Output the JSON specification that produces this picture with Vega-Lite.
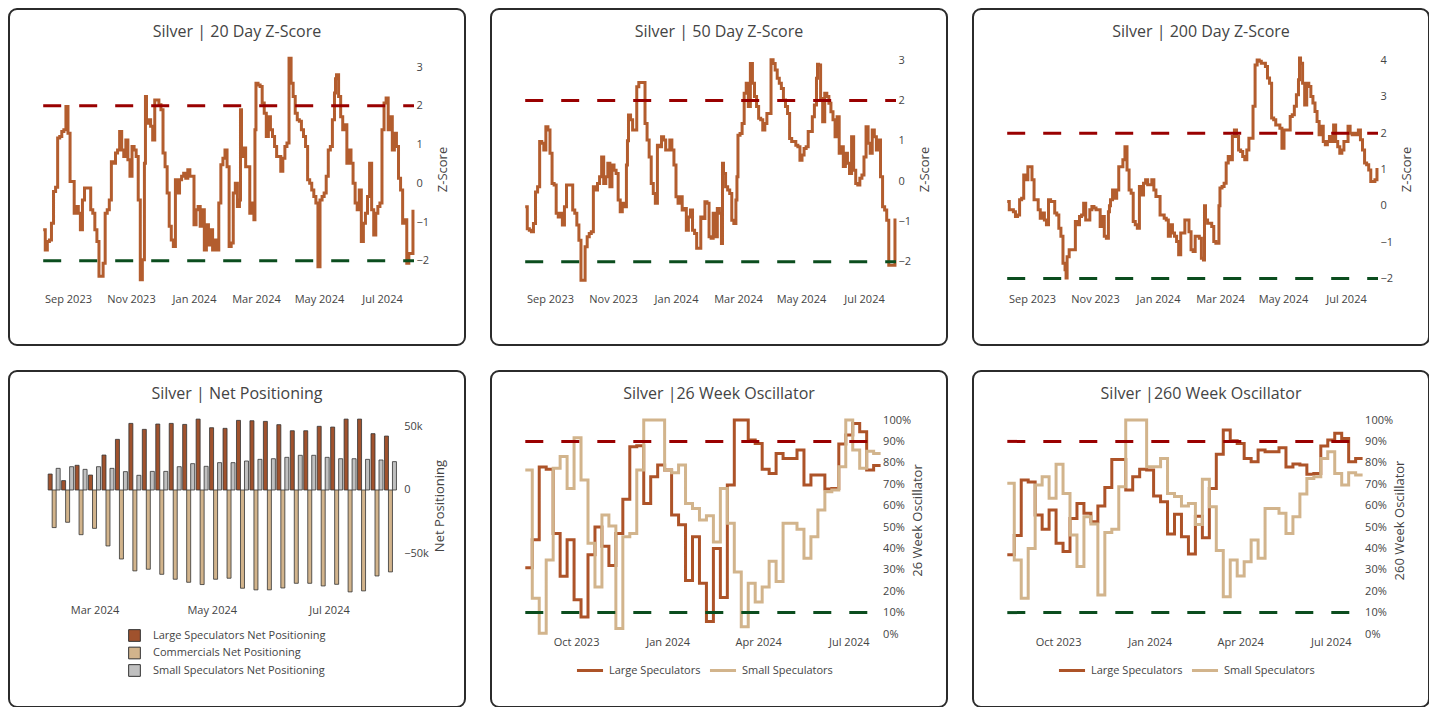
{
"$schema": "https://vega.github.io/schema/vega-lite/v6.json",
"background": "white",
"padding": {"left": 8, "top": 8, "right": 0, "bottom": 0},
"spacing": 24,
"config": {
  "view": {"stroke": "#2b2b2b", "strokeWidth": 2, "cornerRadius": 8, "fill": "white"},
  "font": "Open Sans",
  "axis": {"grid": false, "domain": false, "ticks": false, "labelFont": "Open Sans", "labelFontSize": 11, "labelColor": "#444", "titleFont": "Open Sans", "titleFontSize": 13, "titleColor": "#444", "titleFontWeight": "normal", "labelFlush": false, "labelOverlap": false},
  "title": {"font": "Open Sans", "fontSize": 16, "fontWeight": "normal", "color": "#444", "anchor": "middle", "frame": "group", "offset": -31},
  "legend": {"labelFont": "Open Sans", "labelFontSize": 11, "labelColor": "#444", "labelLimit": 300}
},
"datasets": {
"z": [
{"d":"2023-08-08","a":-1.2,"b":-0.64,"c":0.12},
{"d":"2023-08-10","a":-1.72,"b":-1.18,"c":-0.11},
{"d":"2023-08-12","a":-1.5,"b":-1.22,"c":-0.11},
{"d":"2023-08-14","a":-1.46,"b":-1.26,"c":-0.16},
{"d":"2023-08-16","a":-1.03,"b":-1.05,"c":-0.29},
{"d":"2023-08-18","a":-0.21,"b":-0.27,"c":-0.25},
{"d":"2023-08-20","a":-0.1,"b":-0.14,"c":0.17},
{"d":"2023-08-22","a":1.17,"b":0.98,"c":0.21},
{"d":"2023-08-24","a":1.21,"b":0.94,"c":0.85},
{"d":"2023-08-26","a":1.34,"b":0.77,"c":0.72},
{"d":"2023-08-28","a":1.38,"b":1.35,"c":1.08},
{"d":"2023-08-30","a":1.98,"b":1.27,"c":1.08},
{"d":"2023-09-01","a":1.29,"b":0.69,"c":0.72},
{"d":"2023-09-03","a":0.05,"b":-0.06,"c":0.17},
{"d":"2023-09-05","a":0.05,"b":-0.1,"c":0.17},
{"d":"2023-09-07","a":-0.77,"b":-0.8,"c":-0.11},
{"d":"2023-09-09","a":-0.6,"b":-0.89,"c":-0.34},
{"d":"2023-09-11","a":-0.77,"b":-0.8,"c":-0.2},
{"d":"2023-09-13","a":-1.2,"b":-1.09,"c":-0.39},
{"d":"2023-09-15","a":-0.43,"b":-0.64,"c":-0.52},
{"d":"2023-09-17","a":-0.12,"b":-0.1,"c":0.17},
{"d":"2023-09-19","a":-0.12,"b":-0.1,"c":0.12},
{"d":"2023-09-21","a":-0.12,"b":-0.1,"c":0.12},
{"d":"2023-09-23","a":-0.68,"b":-0.72,"c":-0.2},
{"d":"2023-09-25","a":-0.77,"b":-0.8,"c":-0.25},
{"d":"2023-09-27","a":-1.2,"b":-1.09,"c":-0.62},
{"d":"2023-09-29","a":-1.5,"b":-1.47,"c":-0.84},
{"d":"2023-10-01","a":-2.4,"b":-2.46,"c":-1.58},
{"d":"2023-10-03","a":-2.4,"b":-2.46,"c":-1.76},
{"d":"2023-10-04","a":-2.4,"b":-2.46,"c":-1.99},
{"d":"2023-10-05","a":-2.06,"b":-1.63,"c":-1.4},
{"d":"2023-10-07","a":-0.77,"b":-1.38,"c":-1.21},
{"d":"2023-10-09","a":-0.68,"b":-1.3,"c":-1.21},
{"d":"2023-10-11","a":-0.43,"b":-1.26,"c":-1.21},
{"d":"2023-10-13","a":0.56,"b":-0.14,"c":-0.43},
{"d":"2023-10-15","a":0.52,"b":-0.22,"c":-0.52},
{"d":"2023-10-17","a":0.78,"b":-0.06,"c":-0.29},
{"d":"2023-10-19","a":0.86,"b":0.11,"c":-0.25},
{"d":"2023-10-21","a":1.34,"b":0.6,"c":0.07},
{"d":"2023-10-23","a":0.86,"b":-0.06,"c":-0.39},
{"d":"2023-10-25","a":0.69,"b":0.11,"c":-0.39},
{"d":"2023-10-27","a":1.12,"b":0.44,"c":-0.11},
{"d":"2023-10-29","a":0.61,"b":-0.14,"c":-0.02},
{"d":"2023-10-31","a":0.18,"b":0.4,"c":-0.06},
{"d":"2023-11-02","a":0.95,"b":0.27,"c":-0.11},
{"d":"2023-11-04","a":0.86,"b":0.19,"c":-0.11},
{"d":"2023-11-06","a":0.69,"b":-0.47,"c":-0.57},
{"d":"2023-11-08","a":-0.43,"b":-0.76,"c":-0.29},
{"d":"2023-11-10","a":-2.49,"b":-0.55,"c":-0.84},
{"d":"2023-11-12","a":-1.97,"b":-0.64,"c":-0.89},
{"d":"2023-11-14","a":0.52,"b":0.4,"c":-0.16},
{"d":"2023-11-15","a":2.24,"b":1.0,"c":0.0},
{"d":"2023-11-16","a":1.55,"b":1.64,"c":0.17},
{"d":"2023-11-18","a":1.64,"b":1.52,"c":0.44},
{"d":"2023-11-20","a":1.47,"b":1.27,"c":0.21},
{"d":"2023-11-22","a":1.12,"b":1.27,"c":0.44},
{"d":"2023-11-24","a":2.15,"b":2.34,"c":1.08},
{"d":"2023-11-26","a":2.15,"b":2.45,"c":1.08},
{"d":"2023-11-28","a":2.03,"b":2.45,"c":1.27},
{"d":"2023-11-30","a":1.9,"b":2.45,"c":1.63},
{"d":"2023-12-02","a":0.78,"b":1.43,"c":0.99},
{"d":"2023-12-04","a":0.43,"b":1.02,"c":0.44},
{"d":"2023-12-06","a":-0.25,"b":0.6,"c":0.35},
{"d":"2023-12-08","a":-1.11,"b":-0.06,"c":-0.43},
{"d":"2023-12-10","a":-1.46,"b":-0.31,"c":-0.52},
{"d":"2023-12-12","a":-1.63,"b":-0.55,"c":-0.62},
{"d":"2023-12-14","a":0.09,"b":0.89,"c":0.53},
{"d":"2023-12-16","a":-0.25,"b":0.85,"c":0.3},
{"d":"2023-12-18","a":0.09,"b":1.1,"c":0.62},
{"d":"2023-12-20","a":0.18,"b":1.02,"c":0.72},
{"d":"2023-12-22","a":0.26,"b":0.77,"c":0.58},
{"d":"2023-12-24","a":0.13,"b":0.77,"c":0.58},
{"d":"2023-12-26","a":0.35,"b":1.02,"c":0.72},
{"d":"2023-12-28","a":0.18,"b":0.77,"c":0.44},
{"d":"2023-12-30","a":0.18,"b":0.4,"c":0.26},
{"d":"2024-01-01","a":-1.07,"b":-0.39,"c":0.26},
{"d":"2024-01-03","a":-0.68,"b":-0.55,"c":-0.25},
{"d":"2024-01-05","a":-0.6,"b":-0.39,"c":-0.25},
{"d":"2024-01-07","a":-1.11,"b":-0.72,"c":-0.34},
{"d":"2024-01-09","a":-0.68,"b":-0.68,"c":-0.39},
{"d":"2024-01-11","a":-1.72,"b":-1.22,"c":-0.84},
{"d":"2024-01-13","a":-1.07,"b":-0.89,"c":-0.52},
{"d":"2024-01-15","a":-1.59,"b":-0.72,"c":-0.75},
{"d":"2024-01-17","a":-1.2,"b":-1.22,"c":-0.84},
{"d":"2024-01-19","a":-1.72,"b":-1.3,"c":-0.98},
{"d":"2024-01-21","a":-1.46,"b":-1.67,"c":-1.35},
{"d":"2024-01-23","a":-1.72,"b":-1.67,"c":-0.75},
{"d":"2024-01-25","a":-0.51,"b":-0.89,"c":-0.75},
{"d":"2024-01-27","a":0.48,"b":-0.93,"c":-0.39},
{"d":"2024-01-29","a":0.65,"b":-0.51,"c":-0.39},
{"d":"2024-01-31","a":0.86,"b":-0.55,"c":-0.71},
{"d":"2024-02-02","a":0.43,"b":-1.38,"c":-1.21},
{"d":"2024-02-04","a":-1.63,"b":-1.42,"c":-1.26},
{"d":"2024-02-06","a":-1.54,"b":-0.8,"c":-0.84},
{"d":"2024-02-08","a":-0.25,"b":-1.38,"c":-0.84},
{"d":"2024-02-10","a":0.0,"b":-0.68,"c":-0.89},
{"d":"2024-02-12","a":-0.6,"b":-0.8,"c":-1.44},
{"d":"2024-02-14","a":-0.43,"b":-1.55,"c":-1.49},
{"d":"2024-02-15","a":1.9,"b":0.44,"c":0.0},
{"d":"2024-02-16","a":0.69,"b":0.19,"c":-0.39},
{"d":"2024-02-18","a":0.91,"b":-0.14,"c":-0.48},
{"d":"2024-02-20","a":0.43,"b":-0.22,"c":-0.48},
{"d":"2024-02-22","a":0.43,"b":-0.31,"c":-0.57},
{"d":"2024-02-24","a":-0.77,"b":-0.97,"c":-0.98},
{"d":"2024-02-26","a":-0.51,"b":-1.05,"c":-1.03},
{"d":"2024-02-28","a":-0.94,"b":-0.47,"c":-1.03},
{"d":"2024-02-29","a":1.38,"b":0.11,"c":0.0},
{"d":"2024-03-01","a":2.58,"b":1.14,"c":0.49},
{"d":"2024-03-03","a":2.54,"b":1.18,"c":0.53},
{"d":"2024-03-05","a":2.5,"b":1.43,"c":0.62},
{"d":"2024-03-07","a":2.07,"b":2.18,"c":1.18},
{"d":"2024-03-09","a":1.81,"b":2.43,"c":1.36},
{"d":"2024-03-11","a":1.21,"b":1.85,"c":1.27},
{"d":"2024-03-13","a":1.72,"b":2.92,"c":1.91},
{"d":"2024-03-15","a":1.38,"b":2.43,"c":2.09},
{"d":"2024-03-17","a":1.21,"b":2.1,"c":1.91},
{"d":"2024-03-19","a":0.95,"b":1.85,"c":1.54},
{"d":"2024-03-21","a":0.69,"b":1.56,"c":1.5},
{"d":"2024-03-23","a":0.69,"b":1.52,"c":1.36},
{"d":"2024-03-25","a":0.31,"b":1.27,"c":1.27},
{"d":"2024-03-27","a":0.65,"b":1.43,"c":1.54},
{"d":"2024-03-29","a":0.95,"b":1.68,"c":1.86},
{"d":"2024-03-31","a":1.04,"b":1.68,"c":1.86},
{"d":"2024-04-02","a":3.23,"b":3.01,"c":2.74},
{"d":"2024-04-04","a":2.58,"b":2.92,"c":3.88},
{"d":"2024-04-06","a":2.24,"b":2.76,"c":4.02},
{"d":"2024-04-08","a":1.81,"b":2.55,"c":3.98},
{"d":"2024-04-10","a":1.64,"b":2.43,"c":3.93},
{"d":"2024-04-12","a":1.6,"b":2.3,"c":3.93},
{"d":"2024-04-14","a":1.38,"b":2.01,"c":3.84},
{"d":"2024-04-16","a":1.21,"b":1.85,"c":3.52},
{"d":"2024-04-18","a":0.95,"b":1.68,"c":3.38},
{"d":"2024-04-20","a":0.09,"b":1.06,"c":2.42},
{"d":"2024-04-22","a":0.0,"b":0.98,"c":2.37},
{"d":"2024-04-24","a":-0.17,"b":0.98,"c":2.23},
{"d":"2024-04-26","a":-0.34,"b":0.89,"c":2.23},
{"d":"2024-04-28","a":-0.51,"b":0.85,"c":2.14},
{"d":"2024-04-30","a":-2.15,"b":0.52,"c":1.59},
{"d":"2024-05-02","a":-0.43,"b":0.65,"c":2.09},
{"d":"2024-05-04","a":-0.34,"b":0.81,"c":2.09},
{"d":"2024-05-06","a":-0.25,"b":0.85,"c":2.09},
{"d":"2024-05-08","a":0.18,"b":1.23,"c":2.46},
{"d":"2024-05-10","a":0.86,"b":1.23,"c":2.51},
{"d":"2024-05-12","a":0.95,"b":1.6,"c":2.74},
{"d":"2024-05-14","a":1.64,"b":1.89,"c":3.06},
{"d":"2024-05-16","a":2.33,"b":2.55,"c":3.47},
{"d":"2024-05-17","a":2.7,"b":2.9,"c":4.07},
{"d":"2024-05-18","a":2.8,"b":2.88,"c":3.93},
{"d":"2024-05-20","a":2.24,"b":2.05,"c":3.38},
{"d":"2024-05-22","a":1.72,"b":1.47,"c":2.78},
{"d":"2024-05-24","a":1.38,"b":2.18,"c":3.38},
{"d":"2024-05-26","a":1.51,"b":2.1,"c":3.29},
{"d":"2024-05-28","a":0.52,"b":1.93,"c":3.01},
{"d":"2024-05-30","a":0.86,"b":1.72,"c":2.83},
{"d":"2024-06-01","a":0.52,"b":1.52,"c":2.6},
{"d":"2024-06-03","a":0.0,"b":1.1,"c":2.32},
{"d":"2024-06-05","a":-0.51,"b":1.6,"c":1.96},
{"d":"2024-06-07","a":-0.68,"b":0.69,"c":2.19},
{"d":"2024-06-09","a":-0.17,"b":0.85,"c":1.77},
{"d":"2024-06-11","a":-1.5,"b":0.36,"c":1.68},
{"d":"2024-06-13","a":-1.03,"b":0.69,"c":1.77},
{"d":"2024-06-15","a":-0.77,"b":0.44,"c":1.91},
{"d":"2024-06-17","a":-0.34,"b":0.19,"c":1.77},
{"d":"2024-06-19","a":0.52,"b":1.1,"c":2.23},
{"d":"2024-06-21","a":-0.68,"b":0.27,"c":1.77},
{"d":"2024-06-23","a":-1.33,"b":-0.06,"c":1.63},
{"d":"2024-06-25","a":-0.77,"b":-0.1,"c":1.45},
{"d":"2024-06-27","a":-0.6,"b":0.07,"c":1.54},
{"d":"2024-06-29","a":-0.51,"b":0.15,"c":1.77},
{"d":"2024-07-01","a":1.38,"b":0.6,"c":1.77},
{"d":"2024-07-03","a":2.07,"b":1.35,"c":2.19},
{"d":"2024-07-05","a":2.2,"b":0.94,"c":2.0},
{"d":"2024-07-07","a":1.38,"b":0.69,"c":1.96},
{"d":"2024-07-09","a":1.72,"b":1.27,"c":2.0},
{"d":"2024-07-11","a":0.86,"b":1.1,"c":1.96},
{"d":"2024-07-13","a":1.29,"b":0.77,"c":2.09},
{"d":"2024-07-15","a":0.95,"b":1.02,"c":1.82},
{"d":"2024-07-17","a":0.13,"b":0.11,"c":1.54},
{"d":"2024-07-19","a":-0.17,"b":-0.64,"c":1.18},
{"d":"2024-07-21","a":-1.03,"b":-0.72,"c":1.13},
{"d":"2024-07-23","a":-0.94,"b":-0.97,"c":0.99},
{"d":"2024-07-25","a":-2.06,"b":-2.09,"c":0.67},
{"d":"2024-07-27","a":-1.81,"b":-2.09,"c":0.67},
{"d":"2024-07-29","a":-1.81,"b":-2.09,"c":0.72},
{"d":"2024-07-31","a":-0.68,"b":-0.93,"c":1.04}
],
"osc": [
{"d":"2023-08-11","l26":0.31,"s26":0.766,"l260":0.37,"s260":0.704},
{"d":"2023-08-18","l26":0.44,"s26":0.167,"l260":0.46,"s260":0.346},
{"d":"2023-08-25","l26":0.78,"s26":0.003,"l260":0.72,"s260":0.167},
{"d":"2023-09-01","l26":0.77,"s26":0.346,"l260":0.71,"s260":0.40},
{"d":"2023-09-08","l26":0.47,"s26":0.774,"l260":0.556,"s260":0.696},
{"d":"2023-09-15","l26":0.27,"s26":0.83,"l260":0.49,"s260":0.735},
{"d":"2023-09-22","l26":0.44,"s26":0.68,"l260":0.58,"s260":0.634},
{"d":"2023-09-29","l26":0.16,"s26":0.917,"l260":0.424,"s260":0.793},
{"d":"2023-10-06","l26":0.08,"s26":0.72,"l260":0.385,"s260":0.657},
{"d":"2023-10-13","l26":0.37,"s26":0.424,"l260":0.54,"s260":0.463},
{"d":"2023-10-20","l26":0.50,"s26":0.22,"l260":0.61,"s260":0.315},
{"d":"2023-10-27","l26":0.41,"s26":0.556,"l260":0.564,"s260":0.548},
{"d":"2023-11-03","l26":0.32,"s26":0.505,"l260":0.525,"s260":0.514},
{"d":"2023-11-10","l26":0.47,"s26":0.026,"l260":0.598,"s260":0.182},
{"d":"2023-11-17","l26":0.63,"s26":0.455,"l260":0.684,"s260":0.474},
{"d":"2023-11-24","l26":0.875,"s26":0.47,"l260":0.816,"s260":0.49},
{"d":"2023-12-01","l26":0.88,"s26":0.766,"l260":0.816,"s260":0.688},
{"d":"2023-12-08","l26":0.61,"s26":1.0,"l260":0.673,"s260":1.0},
{"d":"2023-12-15","l26":0.735,"s26":1.0,"l260":0.735,"s260":1.0},
{"d":"2023-12-22","l26":0.79,"s26":1.0,"l260":0.77,"s260":1.0},
{"d":"2023-12-29","l26":0.766,"s26":0.766,"l260":0.766,"s260":0.782},
{"d":"2024-01-05","l26":0.556,"s26":0.754,"l260":0.645,"s260":0.782},
{"d":"2024-01-12","l26":0.51,"s26":0.79,"l260":0.618,"s260":0.82},
{"d":"2024-01-19","l26":0.25,"s26":0.61,"l260":0.467,"s260":0.657},
{"d":"2024-01-26","l26":0.455,"s26":0.587,"l260":0.56,"s260":0.642},
{"d":"2024-02-02","l26":0.237,"s26":0.533,"l260":0.455,"s260":0.598},
{"d":"2024-02-09","l26":0.058,"s26":0.553,"l260":0.374,"s260":0.61},
{"d":"2024-02-16","l26":0.40,"s26":0.43,"l260":0.55,"s260":0.512},
{"d":"2024-02-23","l26":0.17,"s26":0.68,"l260":0.45,"s260":0.723},
{"d":"2024-03-01","l26":0.696,"s26":0.517,"l260":0.68,"s260":0.595},
{"d":"2024-03-08","l26":1.0,"s26":0.29,"l260":0.84,"s260":0.39},
{"d":"2024-03-15","l26":1.0,"s26":0.034,"l260":0.953,"s260":0.174},
{"d":"2024-03-22","l26":0.907,"s26":0.237,"l260":0.903,"s260":0.346},
{"d":"2024-03-29","l26":0.89,"s26":0.15,"l260":0.89,"s260":0.271},
{"d":"2024-04-05","l26":0.77,"s26":0.22,"l260":0.82,"s260":0.338},
{"d":"2024-04-12","l26":0.75,"s26":0.34,"l260":0.805,"s260":0.439},
{"d":"2024-04-19","l26":0.844,"s26":0.245,"l260":0.86,"s260":0.354},
{"d":"2024-04-26","l26":0.82,"s26":0.517,"l260":0.852,"s260":0.587},
{"d":"2024-05-03","l26":0.82,"s26":0.517,"l260":0.852,"s260":0.587},
{"d":"2024-05-10","l26":0.86,"s26":0.49,"l260":0.87,"s260":0.564},
{"d":"2024-05-17","l26":0.696,"s26":0.354,"l260":0.78,"s260":0.47},
{"d":"2024-05-24","l26":0.743,"s26":0.455,"l260":0.794,"s260":0.548},
{"d":"2024-05-31","l26":0.743,"s26":0.58,"l260":0.79,"s260":0.654},
{"d":"2024-06-07","l26":0.678,"s26":0.665,"l260":0.746,"s260":0.727},
{"d":"2024-06-14","l26":0.68,"s26":0.673,"l260":0.75,"s260":0.735},
{"d":"2024-06-21","l26":0.888,"s26":0.782,"l260":0.879,"s260":0.82},
{"d":"2024-06-28","l26":0.93,"s26":1.0,"l260":0.907,"s260":0.852},
{"d":"2024-07-05","l26":0.984,"s26":0.86,"l260":0.938,"s260":0.75},
{"d":"2024-07-12","l26":0.945,"s26":0.774,"l260":0.914,"s260":0.696},
{"d":"2024-07-19","l26":0.766,"s26":0.854,"l260":0.805,"s260":0.754},
{"d":"2024-07-26","l26":0.787,"s26":0.844,"l260":0.82,"s260":0.743},
{"d":"2024-08-02","l26":0.787,"s26":0.844,"l260":0.82,"s260":0.743}
],
"net": [
{"d":"2024-02-09","ls":12600,"cm":-29700,"ss":17100},
{"d":"2024-02-16","ls":7400,"cm":-25500,"ss":18400},
{"d":"2024-02-23","ls":19500,"cm":-35300,"ss":16300},
{"d":"2024-03-01","ls":11800,"cm":-30300,"ss":18400},
{"d":"2024-03-08","ls":27600,"cm":-44200,"ss":17100},
{"d":"2024-03-15","ls":40000,"cm":-54500,"ss":14500},
{"d":"2024-03-22","ls":52600,"cm":-63900,"ss":11600},
{"d":"2024-03-29","ls":47900,"cm":-62600,"ss":14700},
{"d":"2024-04-05","ls":52100,"cm":-66600,"ss":14700},
{"d":"2024-04-12","ls":52600,"cm":-70500,"ss":18400},
{"d":"2024-04-19","ls":51800,"cm":-72900,"ss":20800},
{"d":"2024-04-26","ls":56000,"cm":-74700,"ss":18700},
{"d":"2024-05-03","ls":49200,"cm":-70500,"ss":21600},
{"d":"2024-05-10","ls":48700,"cm":-69700,"ss":21600},
{"d":"2024-05-17","ls":55000,"cm":-77600,"ss":22900},
{"d":"2024-05-24","ls":54700,"cm":-78900,"ss":24200},
{"d":"2024-05-31","ls":54200,"cm":-78900,"ss":24700},
{"d":"2024-06-07","ls":51600,"cm":-77400,"ss":25800},
{"d":"2024-06-14","ls":46800,"cm":-73700,"ss":27400},
{"d":"2024-06-21","ls":46800,"cm":-73700,"ss":27400},
{"d":"2024-06-28","ls":50300,"cm":-75800,"ss":25800},
{"d":"2024-07-05","ls":49700,"cm":-74500,"ss":24700},
{"d":"2024-07-12","ls":56000,"cm":-80500,"ss":24700},
{"d":"2024-07-19","ls":56000,"cm":-79700,"ss":24200},
{"d":"2024-07-26","ls":44500,"cm":-67900,"ss":23700},
{"d":"2024-08-02","ls":42600,"cm":-64700,"ss":22400}
]
},
"vconcat": [
{
"hconcat": [
{
"width": 456, "height": 336,
"title": {"text": "Silver | 20 Day Z-Score"},
"resolve": {"axis": {"x": "independent", "y": "independent"}},
"layer": [
{"data": {"name": "z"}, "mark": {"type": "line", "interpolate": "step-after", "color": "#b35d2e", "strokeWidth": 3},
 "encoding": {
  "x": {"field": "d", "type": "temporal", "scale": {"type": "utc", "domain": [{"year": 2023, "month": 8, "date": 8, "utc": true}, {"year": 2024, "month": 8, "date": 1, "utc": true}], "range": [34.2, 405]},
        "axis": {"orient": "bottom", "offset": -64, "labelPadding": 12, "format": "%b %Y", "title": null,
                 "values": [{"year": 2023, "month": 9, "date": 1, "utc": true}, {"year": 2023, "month": 11, "date": 1, "utc": true}, {"year": 2024, "month": 1, "date": 1, "utc": true}, {"year": 2024, "month": 3, "date": 1, "utc": true}, {"year": 2024, "month": 5, "date": 1, "utc": true}, {"year": 2024, "month": 7, "date": 1, "utc": true}]}},
  "y": {"field": "a", "type": "quantitative", "scale": {"domain": [-2.52, 3.26], "range": [272, 48], "nice": false, "zero": false},
        "axis": {"orient": "right", "offset": -51, "labelPadding": 2, "values": [-2, -1, 0, 1, 2, 3], "title": "Z-Score", "titleAngle": 270, "titleX": 28, "titleAlign": "center", "titleBaseline": "middle"}}
 }},
{"data": {"values": [{"x0": "2023-08-08", "x1": "2024-08-01", "y": 2}]}, "mark": {"type": "rule", "color": "#990000", "strokeWidth": 3, "strokeDash": [18, 18]},
 "encoding": {"x": {"field": "x0", "type": "temporal", "axis": null}, "x2": {"field": "x1"}, "y": {"field": "y", "type": "quantitative", "axis": null}}},
{"data": {"values": [{"x0": "2023-08-08", "x1": "2024-08-01", "y": -2}]}, "mark": {"type": "rule", "color": "#0b4d1e", "strokeWidth": 3, "strokeDash": [18, 18]},
 "encoding": {"x": {"field": "x0", "type": "temporal", "axis": null}, "x2": {"field": "x1"}, "y": {"field": "y", "type": "quantitative", "axis": null}}}
]
},
{
"width": 456, "height": 336,
"title": {"text": "Silver | 50 Day Z-Score"},
"resolve": {"axis": {"x": "independent", "y": "independent"}},
"layer": [
{"data": {"name": "z"}, "mark": {"type": "line", "interpolate": "step-after", "color": "#b35d2e", "strokeWidth": 3},
 "encoding": {
  "x": {"field": "d", "type": "temporal", "scale": {"type": "utc", "domain": [{"year": 2023, "month": 8, "date": 8, "utc": true}, {"year": 2024, "month": 8, "date": 1, "utc": true}], "range": [34.2, 405]},
        "axis": {"orient": "bottom", "offset": -64, "labelPadding": 12, "format": "%b %Y", "title": null,
                 "values": [{"year": 2023, "month": 9, "date": 1, "utc": true}, {"year": 2023, "month": 11, "date": 1, "utc": true}, {"year": 2024, "month": 1, "date": 1, "utc": true}, {"year": 2024, "month": 3, "date": 1, "utc": true}, {"year": 2024, "month": 5, "date": 1, "utc": true}, {"year": 2024, "month": 7, "date": 1, "utc": true}]}},
  "y": {"field": "b", "type": "quantitative", "scale": {"domain": [-2.48, 3.08], "range": [272, 48], "nice": false, "zero": false},
        "axis": {"orient": "right", "offset": -51, "labelPadding": 2, "values": [-2, -1, 0, 1, 2, 3], "title": "Z-Score", "titleAngle": 270, "titleX": 28, "titleAlign": "center", "titleBaseline": "middle"}}
 }},
{"data": {"values": [{"x0": "2023-08-08", "x1": "2024-08-01", "y": 2}]}, "mark": {"type": "rule", "color": "#990000", "strokeWidth": 3, "strokeDash": [18, 18]},
 "encoding": {"x": {"field": "x0", "type": "temporal", "axis": null}, "x2": {"field": "x1"}, "y": {"field": "y", "type": "quantitative", "axis": null}}},
{"data": {"values": [{"x0": "2023-08-08", "x1": "2024-08-01", "y": -2}]}, "mark": {"type": "rule", "color": "#0b4d1e", "strokeWidth": 3, "strokeDash": [18, 18]},
 "encoding": {"x": {"field": "x0", "type": "temporal", "axis": null}, "x2": {"field": "x1"}, "y": {"field": "y", "type": "quantitative", "axis": null}}}
]
},
{
"width": 456, "height": 336,
"title": {"text": "Silver | 200 Day Z-Score"},
"resolve": {"axis": {"x": "independent", "y": "independent"}},
"layer": [
{"data": {"name": "z"}, "mark": {"type": "line", "interpolate": "step-after", "color": "#b35d2e", "strokeWidth": 3},
 "encoding": {
  "x": {"field": "d", "type": "temporal", "scale": {"type": "utc", "domain": [{"year": 2023, "month": 8, "date": 8, "utc": true}, {"year": 2024, "month": 8, "date": 1, "utc": true}], "range": [34.2, 405]},
        "axis": {"orient": "bottom", "offset": -64, "labelPadding": 12, "format": "%b %Y", "title": null,
                 "values": [{"year": 2023, "month": 9, "date": 1, "utc": true}, {"year": 2023, "month": 11, "date": 1, "utc": true}, {"year": 2024, "month": 1, "date": 1, "utc": true}, {"year": 2024, "month": 3, "date": 1, "utc": true}, {"year": 2024, "month": 5, "date": 1, "utc": true}, {"year": 2024, "month": 7, "date": 1, "utc": true}]}},
  "y": {"field": "c", "type": "quantitative", "scale": {"domain": [-2.07, 4.1], "range": [272, 48], "nice": false, "zero": false},
        "axis": {"orient": "right", "offset": -51, "labelPadding": 2, "values": [-2, -1, 0, 1, 2, 3, 4], "title": "Z-Score", "titleAngle": 270, "titleX": 28, "titleAlign": "center", "titleBaseline": "middle"}}
 }},
{"data": {"values": [{"x0": "2023-08-08", "x1": "2024-08-01", "y": 2}]}, "mark": {"type": "rule", "color": "#990000", "strokeWidth": 3, "strokeDash": [18, 18]},
 "encoding": {"x": {"field": "x0", "type": "temporal", "axis": null}, "x2": {"field": "x1"}, "y": {"field": "y", "type": "quantitative", "axis": null}}},
{"data": {"values": [{"x0": "2023-08-08", "x1": "2024-08-01", "y": -2}]}, "mark": {"type": "rule", "color": "#0b4d1e", "strokeWidth": 3, "strokeDash": [18, 18]},
 "encoding": {"x": {"field": "x0", "type": "temporal", "axis": null}, "x2": {"field": "x1"}, "y": {"field": "y", "type": "quantitative", "axis": null}}}
]
}
],
"spacing": 26, "bounds": "flush"
},
{
"hconcat": [
{
"width": 456, "height": 336,
"title": {"text": "Silver | Net Positioning"},
"resolve": {"axis": {"x": "independent", "y": "independent"}},
"layer": [
{"data": {"name": "net"}, "mark": {"type": "bar", "size": 4, "xOffset": -4, "stroke": "#333", "strokeWidth": 0.8},
 "encoding": {
  "x": {"field": "d", "type": "temporal", "scale": {"type": "utc", "domain": [{"year": 2024, "month": 2, "date": 5, "hours": 19, "utc": true}, {"year": 2024, "month": 8, "date": 5, "hours": 6, "utc": true}], "range": [34, 392.7]},
        "axis": {"orient": "bottom", "offset": -115, "labelPadding": 12, "format": "%b %Y", "title": null,
                 "values": [{"year": 2024, "month": 3, "date": 1, "utc": true}, {"year": 2024, "month": 5, "date": 1, "utc": true}, {"year": 2024, "month": 7, "date": 1, "utc": true}]}},
  "y": {"field": "ls", "type": "quantitative", "scale": {"domain": [-80500, 56000], "range": [220.9, 48.1], "nice": false, "zero": false},
        "axis": {"orient": "right", "offset": -63.3, "labelPadding": 2, "values": [-50000, 0, 50000], "labelExpr": "datum.value == 0 ? '0' : format(datum.value, '~s')", "title": "Net Positioning", "titleAngle": 270, "titleX": 38, "titleAlign": "center", "titleBaseline": "middle"}},
  "y2": {"datum": 0},
  "color": {"datum": "Large Speculators Net Positioning", "type": "nominal",
            "scale": {"domain": ["Large Speculators Net Positioning", "Commercials Net Positioning", "Small Speculators Net Positioning"], "range": ["#a0522d", "#d2b48c", "#c0c0c0"]},
            "legend": {"orient": "none", "legendX": 119, "legendY": 258, "direction": "vertical", "title": null, "symbolType": "square", "symbolSize": 137, "symbolStrokeColor": "#333", "symbolStrokeWidth": 1, "labelOffset": 12, "rowPadding": 0.5, "padding": 0}}
 }},
{"data": {"name": "net"}, "mark": {"type": "bar", "size": 4, "xOffset": 0, "stroke": "#333", "strokeWidth": 0.8},
 "encoding": {
  "x": {"field": "d", "type": "temporal", "axis": null},
  "y": {"field": "cm", "type": "quantitative", "axis": null},
  "y2": {"datum": 0},
  "color": {"datum": "Commercials Net Positioning", "type": "nominal"}
 }},
{"data": {"name": "net"}, "mark": {"type": "bar", "size": 4, "xOffset": 4, "stroke": "#333", "strokeWidth": 0.8},
 "encoding": {
  "x": {"field": "d", "type": "temporal", "axis": null},
  "y": {"field": "ss", "type": "quantitative", "axis": null},
  "y2": {"datum": 0},
  "color": {"datum": "Small Speculators Net Positioning", "type": "nominal"}
 }}
]
},
{
"width": 456, "height": 336,
"title": {"text": "Silver |26 Week Oscillator"},
"resolve": {"axis": {"x": "independent", "y": "independent"}},
"layer": [
{"data": {"name": "osc"}, "mark": {"type": "line", "interpolate": "step-after", "strokeWidth": 3},
 "encoding": {
  "x": {"field": "d", "type": "temporal", "scale": {"type": "utc", "domain": [{"year": 2023, "month": 8, "date": 11, "utc": true}, {"year": 2024, "month": 8, "date": 2, "utc": true}], "range": [34.3, 389.6]},
        "axis": {"orient": "bottom", "offset": -73, "labelPadding": 2, "format": "%b %Y", "title": null,
                 "values": [{"year": 2023, "month": 10, "date": 1, "utc": true}, {"year": 2024, "month": 1, "date": 1, "utc": true}, {"year": 2024, "month": 4, "date": 1, "utc": true}, {"year": 2024, "month": 7, "date": 1, "utc": true}]}},
  "y": {"field": "l26", "type": "quantitative", "scale": {"domain": [0, 1], "range": [263, 49], "nice": false, "zero": false},
        "axis": {"orient": "right", "offset": -66.4, "labelPadding": 2, "values": [0, 0.1, 0.2, 0.3, 0.4, 0.5, 0.6, 0.7, 0.8, 0.9, 1], "format": ".0%", "title": "26 Week Oscillator", "titleAngle": 270, "titleX": 37, "titleY": 149, "titleAlign": "center", "titleBaseline": "middle"}},
  "color": {"datum": "Large Speculators", "type": "nominal",
            "scale": {"domain": ["Large Speculators", "Small Speculators"], "range": ["#ad5328", "#d2b48c"]},
            "legend": {"orient": "none", "legendX": 84, "legendY": 284.5, "direction": "horizontal", "title": null, "symbolType": "stroke", "symbolSize": 680, "symbolStrokeWidth": 3, "labelOffset": 4, "columnPadding": 2, "padding": 0}}
 }},
{"data": {"name": "osc"}, "mark": {"type": "line", "interpolate": "step-after", "strokeWidth": 3},
 "encoding": {
  "x": {"field": "d", "type": "temporal", "axis": null},
  "y": {"field": "s26", "type": "quantitative", "axis": null},
  "color": {"datum": "Small Speculators", "type": "nominal"}
 }},
{"data": {"values": [{"x0": "2023-08-11", "x1": "2024-08-02", "y": 0.9}]}, "mark": {"type": "rule", "color": "#990000", "strokeWidth": 3, "strokeDash": [18, 18]},
 "encoding": {"x": {"field": "x0", "type": "temporal", "axis": null}, "x2": {"field": "x1"}, "y": {"field": "y", "type": "quantitative", "axis": null}}},
{"data": {"values": [{"x0": "2023-08-11", "x1": "2024-08-02", "y": 0.1}]}, "mark": {"type": "rule", "color": "#0b4d1e", "strokeWidth": 3, "strokeDash": [18, 18]},
 "encoding": {"x": {"field": "x0", "type": "temporal", "axis": null}, "x2": {"field": "x1"}, "y": {"field": "y", "type": "quantitative", "axis": null}}}
]
},
{
"width": 456, "height": 336,
"title": {"text": "Silver |260 Week Oscillator"},
"resolve": {"axis": {"x": "independent", "y": "independent"}},
"layer": [
{"data": {"name": "osc"}, "mark": {"type": "line", "interpolate": "step-after", "strokeWidth": 3},
 "encoding": {
  "x": {"field": "d", "type": "temporal", "scale": {"type": "utc", "domain": [{"year": 2023, "month": 8, "date": 11, "utc": true}, {"year": 2024, "month": 8, "date": 2, "utc": true}], "range": [34.3, 389.6]},
        "axis": {"orient": "bottom", "offset": -73, "labelPadding": 2, "format": "%b %Y", "title": null,
                 "values": [{"year": 2023, "month": 10, "date": 1, "utc": true}, {"year": 2024, "month": 1, "date": 1, "utc": true}, {"year": 2024, "month": 4, "date": 1, "utc": true}, {"year": 2024, "month": 7, "date": 1, "utc": true}]}},
  "y": {"field": "l260", "type": "quantitative", "scale": {"domain": [0, 1], "range": [263, 49], "nice": false, "zero": false},
        "axis": {"orient": "right", "offset": -66.4, "labelPadding": 2, "values": [0, 0.1, 0.2, 0.3, 0.4, 0.5, 0.6, 0.7, 0.8, 0.9, 1], "format": ".0%", "title": "260 Week Oscillator", "titleAngle": 270, "titleX": 37, "titleY": 149, "titleAlign": "center", "titleBaseline": "middle"}},
  "color": {"datum": "Large Speculators", "type": "nominal",
            "scale": {"domain": ["Large Speculators", "Small Speculators"], "range": ["#ad5328", "#d2b48c"]},
            "legend": {"orient": "none", "legendX": 84, "legendY": 284.5, "direction": "horizontal", "title": null, "symbolType": "stroke", "symbolSize": 680, "symbolStrokeWidth": 3, "labelOffset": 4, "columnPadding": 2, "padding": 0}}
 }},
{"data": {"name": "osc"}, "mark": {"type": "line", "interpolate": "step-after", "strokeWidth": 3},
 "encoding": {
  "x": {"field": "d", "type": "temporal", "axis": null},
  "y": {"field": "s260", "type": "quantitative", "axis": null},
  "color": {"datum": "Small Speculators", "type": "nominal"}
 }},
{"data": {"values": [{"x0": "2023-08-11", "x1": "2024-08-02", "y": 0.9}]}, "mark": {"type": "rule", "color": "#990000", "strokeWidth": 3, "strokeDash": [18, 18]},
 "encoding": {"x": {"field": "x0", "type": "temporal", "axis": null}, "x2": {"field": "x1"}, "y": {"field": "y", "type": "quantitative", "axis": null}}},
{"data": {"values": [{"x0": "2023-08-11", "x1": "2024-08-02", "y": 0.1}]}, "mark": {"type": "rule", "color": "#0b4d1e", "strokeWidth": 3, "strokeDash": [18, 18]},
 "encoding": {"x": {"field": "x0", "type": "temporal", "axis": null}, "x2": {"field": "x1"}, "y": {"field": "y", "type": "quantitative", "axis": null}}}
]
}
],
"spacing": 26, "bounds": "flush",
"resolve": {"scale": {"color": "independent"}, "legend": {"color": "independent"}}
}
]
}
